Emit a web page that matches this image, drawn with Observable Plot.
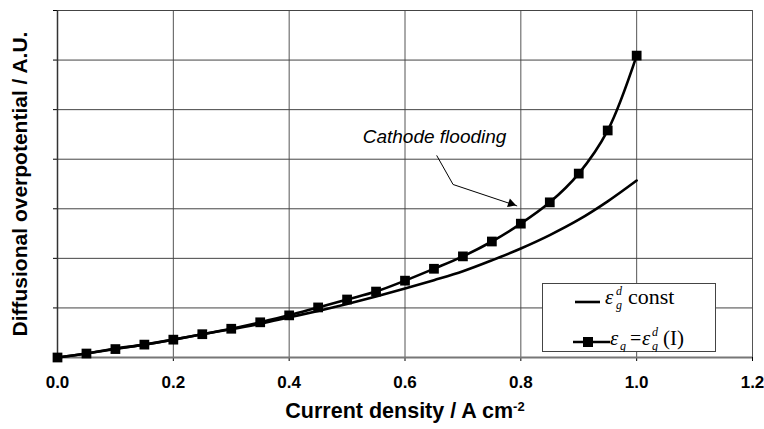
<!DOCTYPE html>
<html>
<head>
<meta charset="utf-8">
<script src="https://cdn.jsdelivr.net/npm/d3@7"></script>
<script src="https://cdn.jsdelivr.net/npm/@observablehq/plot@0.6"></script>
<style>
  html, body { margin: 0; padding: 0; background: white; overflow: hidden; }
  #wrap { position: relative; width: 764px; height: 429px; }
  #legend { position: absolute; left: 542px; top: 283px; }
  svg text { font-family: "Liberation Sans", Arial, sans-serif; }
  g[aria-label="x-axis tick label"] text { font-weight: bold; font-size: 17px; }
</style>
</head>
<body>
<div id="wrap"></div>
<script>
// ---- data ----
const current = [0, 0.05, 0.1, 0.15, 0.2, 0.25, 0.3, 0.35, 0.4, 0.45, 0.5,
                 0.55, 0.6, 0.65, 0.7, 0.75, 0.8, 0.85, 0.9, 0.95, 1.0];
const overpotConst = [0, 0.08, 0.18, 0.26, 0.36, 0.47, 0.57, 0.68, 0.81, 0.94, 1.08,
                      1.23, 1.39, 1.56, 1.74, 1.96, 2.2, 2.47, 2.78, 3.15, 3.57];
const overpotFlood = [0, 0.08, 0.17, 0.26, 0.36, 0.47, 0.58, 0.71, 0.85, 1.01, 1.17,
                      1.33, 1.55, 1.79, 2.04, 2.34, 2.70, 3.13, 3.71, 4.58, 6.09];
const xTicks = [0, 0.2, 0.4, 0.6, 0.8, 1.0, 1.2];
const yTicks = [0, 1, 2, 3, 4, 5, 6, 7];
const xTitle = ["Current density / A cm", "-2"];
const yTitle = "Diffusional overpotential / A.U.";
const annotText = "Cathode flooding";
const annotX = [0.651];
const annotY = [4.46];
const arrowX = [0.655, 0.683, 0.793];
const arrowY = [4.07, 3.49, 3.06];
const headX = [0.783];
const headY = [3.105];

const constData = current.map((x, i) => ({x, y: overpotConst[i]}));
const floodData = current.map((x, i) => ({x, y: overpotFlood[i]}));
const arrowData = arrowX.map((x, i) => ({x, y: arrowY[i]}));

const chart = Plot.plot({
  width: 764,
  height: 429,
  marginLeft: 57,
  marginRight: 12,
  marginTop: 10,
  marginBottom: 72,
  style: { background: "white", overflow: "visible", fontFamily: "Liberation Sans" },
  x: { domain: [0, 1.2], ticks: xTicks, tickFormat: d3.format(".1f"), tickSize: 4, tickPadding: 14, label: null },
  y: { domain: [0, 7], ticks: yTicks, tickFormat: () => "", tickSize: 4, label: null },
  marks: [
    Plot.ruleX(xTicks.slice(1), { stroke: "#555", strokeWidth: 1 }),
    Plot.ruleY(yTicks.slice(1), { stroke: "#444", strokeWidth: 1 }),
    Plot.ruleY([0], { stroke: "#777", strokeWidth: 2 }),
    Plot.ruleX([0], { stroke: "#333", strokeWidth: 1.5 }),
    Plot.line(constData, { x: "x", y: "y", stroke: "black", strokeWidth: 2.6, curve: "catmull-rom" }),
    Plot.line(floodData, { x: "x", y: "y", stroke: "black", strokeWidth: 2.6, curve: "catmull-rom" }),
    Plot.dot(floodData, { x: "x", y: "y", symbol: "square", fill: "black", r: 5.5 }),
    Plot.text([annotText], { x: annotX, y: annotY, text: d => d, fontSize: 19, fontStyle: "italic", fill: "black" }),
    Plot.line(arrowData, { x: "x", y: "y", stroke: "black", strokeWidth: 1 }),
    Plot.dot([0], { x: headX, y: headY, symbol: "triangle", fill: "black", r: 3.4, rotate: 108 }),
    Plot.text([yTitle], { frameAnchor: "left", dx: -37, rotate: -90, textAnchor: "middle", lineAnchor: "middle", text: d => d, fontSize: 21, fontWeight: "bold", fill: "black" }),
    Plot.text([xTitle[0]], { frameAnchor: "bottom", dy: 60, textAnchor: "middle", text: d => d, fontSize: 21.5, fontWeight: "bold", fill: "black" })
  ]
});

// superscript on the x title
chart.querySelectorAll("text").forEach(t => {
  if (t.textContent === xTitle[0]) {
    const ts = document.createElementNS("http://www.w3.org/2000/svg", "tspan");
    ts.setAttribute("dy", "-0.5em");
    ts.setAttribute("font-size", "13");
    ts.textContent = xTitle[1];
    t.appendChild(ts);
  }
});

document.getElementById("wrap").appendChild(chart);

// legend
const lg = d3.select("#wrap").append("svg")
  .attr("id", "legend").attr("width", 174).attr("height", 69);
lg.append("rect").attr("x", 0.5).attr("y", 0.5).attr("width", 173).attr("height", 68)
  .attr("fill", "white").attr("stroke", "#444").attr("stroke-width", 1);
lg.append("line").attr("x1", 33).attr("x2", 58).attr("y1", 19).attr("y2", 19)
  .attr("stroke", "black").attr("stroke-width", 2.6);
lg.append("line").attr("x1", 31).attr("x2", 68).attr("y1", 59).attr("y2", 59)
  .attr("stroke", "black").attr("stroke-width", 2.6);
lg.append("rect").attr("x", 41).attr("y", 54).attr("width", 10).attr("height", 10).attr("fill", "black");

const serif = "'Liberation Serif', 'Times New Roman', serif";
function t(x, y, s, size, italic) {
  lg.append("text").attr("x", x).attr("y", y).text(s)
    .style("font-family", serif).attr("font-size", size)
    .attr("font-style", italic ? "italic" : "normal").attr("fill", "black");
}
// row 1: eps_g^d const
t(63, 21, "ε", 21, true);
t(74, 12, "d", 12, true);
t(74, 26, "g", 12, true);
t(86, 21, "const", 22, false);
// row 2: eps_g = eps_g^d (I)
t(68, 62, "ε", 21, true);
t(78, 67, "g", 12, true);
t(88, 62, "=", 20, false);
t(100, 62, "ε", 21, true);
t(110, 53, "d", 12, true);
t(110, 67, "g", 12, true);
t(121, 62, "(I)", 21, false);
</script>
</body>
</html>
